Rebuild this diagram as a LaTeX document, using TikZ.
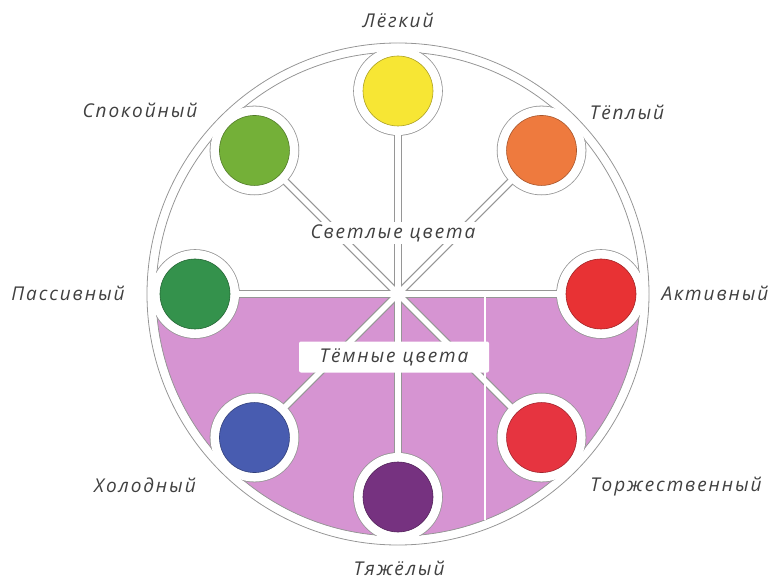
\documentclass[tikz,border=0pt]{standalone}
\usepackage{fontspec}
\setmainfont{Open Sans}
\newfontfamily\tagfont[LetterSpace=10]{Open Sans}
\usetikzlibrary{positioning}

\definecolor{cyellow}{RGB}{247,230,52}
\definecolor{corange}{RGB}{238,122,62}
\definecolor{cred}{RGB}{232,50,52}
\definecolor{credtwo}{RGB}{230,52,64}
\definecolor{cpurple}{RGB}{118,50,128}
\definecolor{cblue}{RGB}{72,92,176}
\definecolor{cdkgreen}{RGB}{52,146,76}
\definecolor{cgreen}{RGB}{116,176,56}
\definecolor{cpink}{RGB}{214,148,210}
\definecolor{cline}{RGB}{150,150,150}

\begin{document}
\begin{tikzpicture}[
        x=1pt,y=1pt,
        rim/.style={draw=cline,line width=0.8pt},
        spokeedge/.style={cline,line width=8pt},
        spokefill/.style={white,line width=5.4pt},
        disk/.style={circle,minimum size=70pt,inner sep=0pt,fill=#1,draw=#1!70!black,line width=0.6pt},
        tag/.style={font=\tagfont\itshape\fontsize{19}{22}\selectfont,text=black!75,inner sep=2pt},
    ]
    \useasboundingbox (-398,-286) rectangle (377,294);
    \coordinate (hub) at (0,0);
    \foreach \a/\n in {90/legkiy,45/teplyi,0/aktiv,-45/torzh,-90/tyazh,-135/holod,180/passiv,135/spokoi}
        \coordinate (p-\n) at (\a:203);

    % === Wheel: outer rim and dark half ===
    \draw[rim,fill=white] (hub) circle[radius=251];
    \fill[cpink] (-242,0) arc[start angle=180,end angle=360,radius=242] -- cycle;
    \draw[rim] (hub) circle[radius=242];

    % === Keyholes: grey edges first, then white ===
    \foreach \n in {legkiy,teplyi,aktiv,torzh,tyazh,holod,passiv,spokoi}
        \fill[cline] (p-\n) circle[radius=44.8];
    \foreach \n in {legkiy,teplyi,aktiv,torzh,tyazh,holod,passiv,spokoi}
        \draw[spokeedge] (hub) -- (p-\n);
    \draw[white,line width=7pt] (hub) circle[radius=246.5];
    \foreach \n in {legkiy,teplyi,aktiv,torzh,tyazh,holod,passiv,spokoi}
        \fill[white] (p-\n) circle[radius=44];
    \foreach \n in {legkiy,teplyi,aktiv,torzh,tyazh,holod,passiv,spokoi}
        \draw[spokefill] (hub) -- (p-\n);
    \coordinate (crease) at (87,0);
    \draw[white,line width=1.2pt] (crease) -- ++(0,-225.8);

    % === Colour disks ===
    \foreach \c/\n in {cyellow/legkiy,corange/teplyi,cred/aktiv,credtwo/torzh,cpurple/tyazh,cblue/holod,cdkgreen/passiv,cgreen/spokoi}
        \node[disk=\c] (d-\n) at (p-\n) {};

    % === Labels ===
    \node[tag] (t-legkiy) at (0,274) {Лёгкий};
    \node[tag] (t-teplyi) at (229,182) {Тёплый};
    \node[tag] (t-aktiv) at (317,1) {Активный};
    \node[tag] (t-torzh) at (278,-193) {Торжественный};
    \node[tag] (t-tyazh) at (1,-274) {Тяжёлый};
    \node[tag] (t-holod) at (-253,-191) {Холодный};
    \node[tag] (t-passiv) at (-330,1) {Пассивный};
    \node[tag] (t-spokoi) at (-258,184) {Спокойный};

    \node[tag,fill=white] (light) at (-5,61) {Светлые цвета};
    \node[tag,fill=white,rounded corners=2pt,minimum width=190pt,minimum height=31pt] (dark) at (-4,-63) {Тёмные цвета};
\end{tikzpicture}
\end{document}
